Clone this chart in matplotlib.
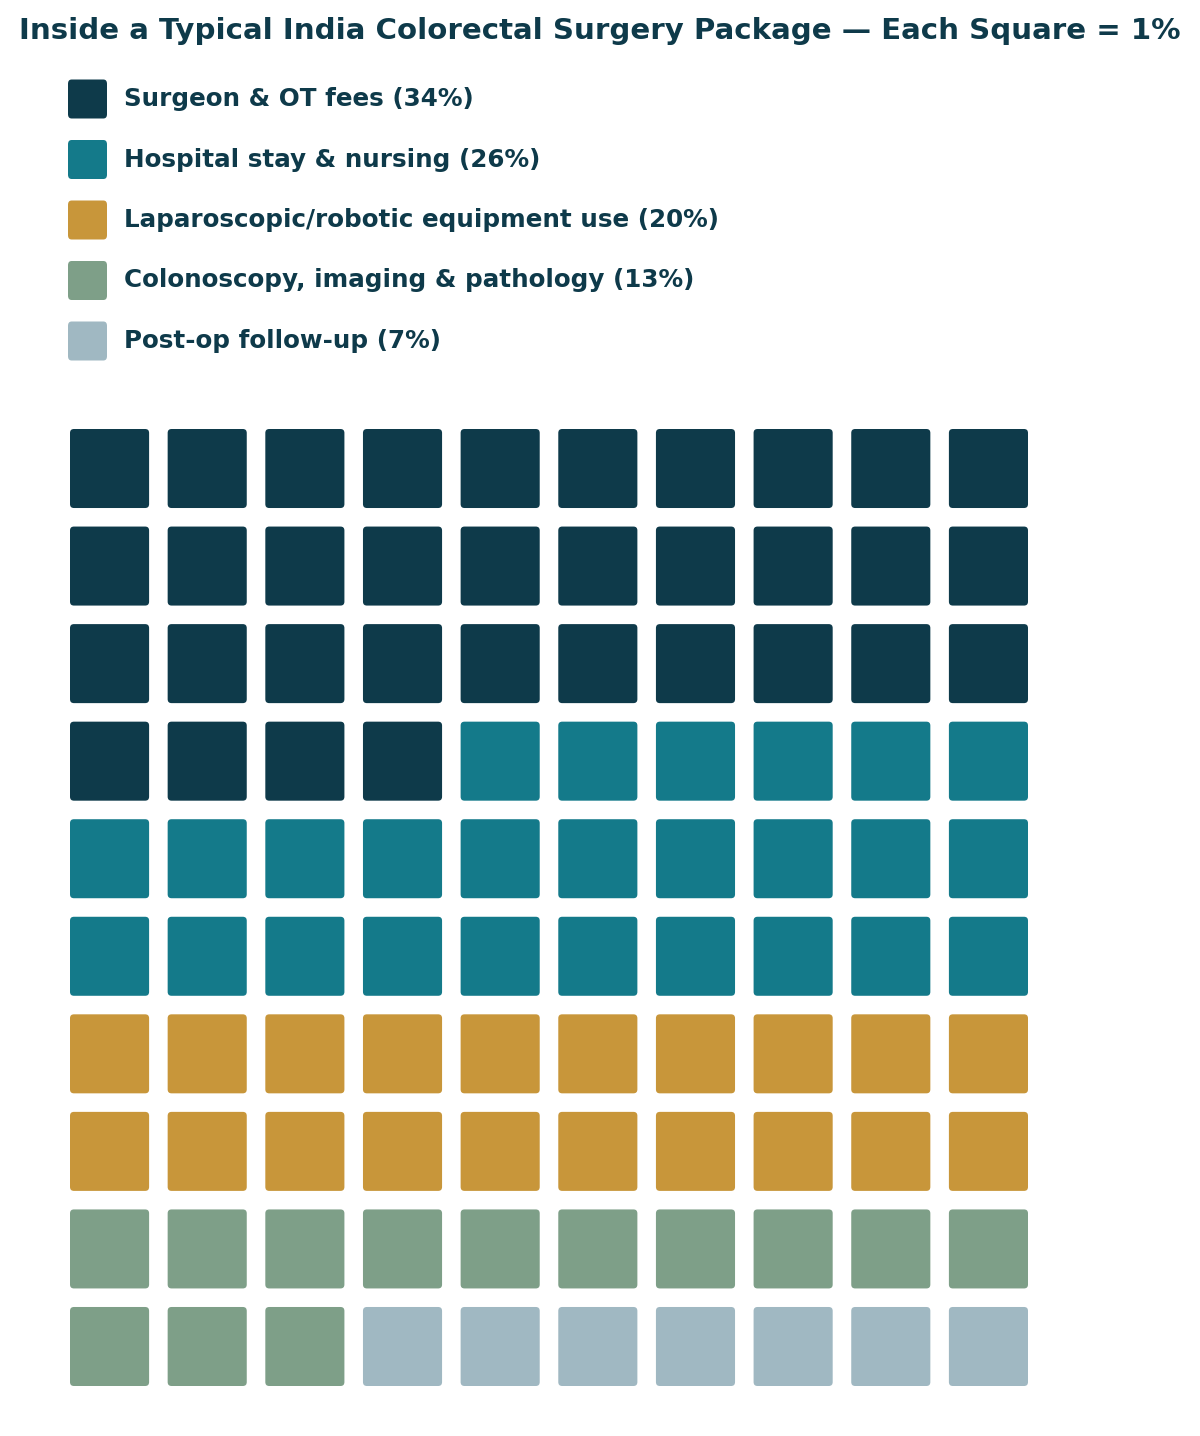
import matplotlib.pyplot as plt
from matplotlib.patches import FancyBboxPatch

# cost breakdown, percent of package
categories = ['Surgeon & OT fees', 'Hospital stay & nursing',
              'Laparoscopic/robotic equipment use',
              'Colonoscopy, imaging & pathology', 'Post-op follow-up']
shares = [34, 26, 20, 13, 7]
colors = ['#0e3a4a', '#147a8a', '#c8963a', '#7e9f88', '#a0b8c2']
text_color = '#0e3a4a'

n_cols = 10
n_rows = 10
cell = 0.81  # square size relative to grid pitch

fig = plt.figure(figsize=(12, 14.36), dpi=100)
fig.patch.set_facecolor('white')

fig.text(0.5, 1 - 31 / 1436, 'Inside a Typical India Colorectal Surgery Package \u2014 Each Square = 1%',
         ha='center', va='center', fontsize=21.1, fontweight='bold', color=text_color)

# legend
for i, (cat, pct, col) in enumerate(zip(categories, shares, colors)):
    yc = 1 - (99 + i * 60.5) / 1436
    h = 39 / 1436
    w = 39 / 1200
    fig.patches.append(FancyBboxPatch((68 / 1200, yc - h / 2), w, h,
                                      boxstyle='round,pad=0,rounding_size=0.003',
                                      transform=fig.transFigure, facecolor=col,
                                      edgecolor='none'))
    fig.text(124 / 1200, yc, f'{cat} ({pct}%)', ha='left', va='center',
             fontsize=17.75, fontweight='bold', color=text_color)

# waffle grid
ax = fig.add_axes([70 / 1200, 50 / 1436, 958 / 1200, 957 / 1436])
ax.set_xlim(0, n_cols - 1 + cell)
ax.set_ylim(0, n_rows - 1 + cell)
ax.axis('off')

cell_colors = []
for pct, col in zip(shares, colors):
    cell_colors += [col] * pct

for k, col in enumerate(cell_colors):
    r, c = divmod(k, n_cols)
    ax.add_patch(FancyBboxPatch((c, n_rows - 1 - r), cell, cell,
                                boxstyle='round,pad=0,rounding_size=0.04',
                                facecolor=col, edgecolor='none'))

fig.savefig('out.png', dpi=100, facecolor='white')
